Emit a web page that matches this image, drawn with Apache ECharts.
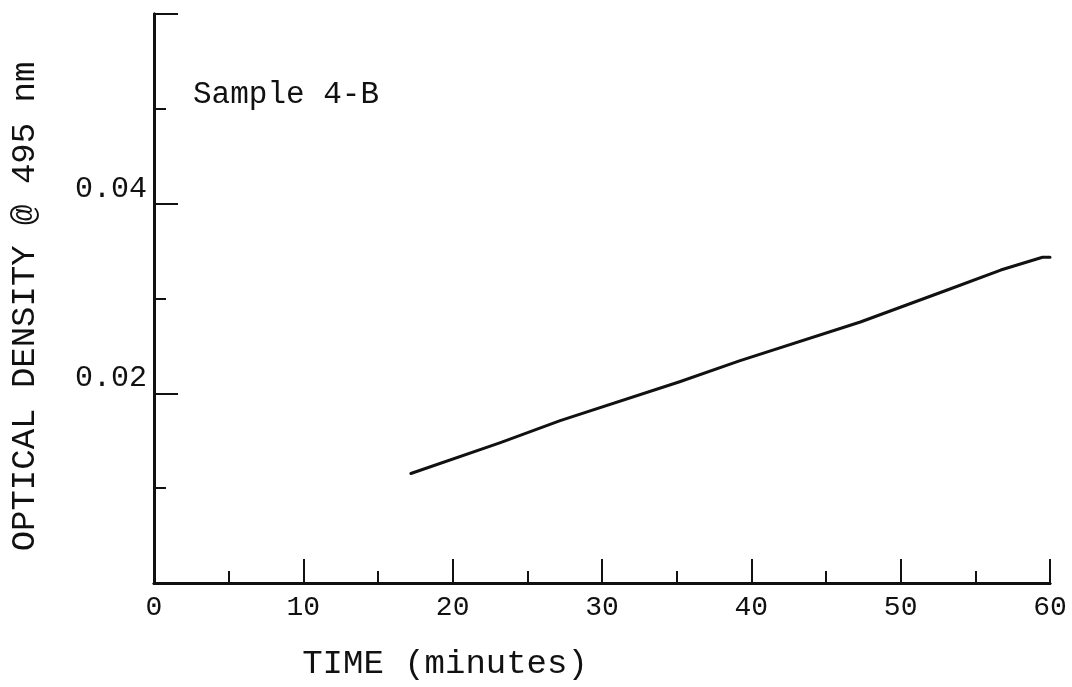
<!DOCTYPE html>
<html>
<head>
<meta charset="utf-8">
<script src="https://cdn.jsdelivr.net/npm/echarts@6/dist/echarts.min.js"></script>
<style>
  html, body { margin: 0; padding: 0; background: #fff; }
  #chart { width: 1072px; height: 687px; }
</style>
</head>
<body>
<div id="chart"></div>
<script>
// Time in minutes and optical density readings for the trace
const timeMinutes = [17.2, 23.2, 27.2, 35.2, 39.2, 47.3, 53.3, 56.7, 59.5, 60.0];
const opticalDensity = [0.01155, 0.01481, 0.01712, 0.02122, 0.02342, 0.02752, 0.03100, 0.03300, 0.03435, 0.03435];

// Labels shown on the axes
const xTickLabels = { 0: '0', 10: '10', 20: '20', 30: '30', 40: '40', 50: '50', 60: '60' };
const yTickLabels = { '0.02': '0.02', '0.04': '0.04' };
const sampleName = 'Sample 4-B';
const xName = 'TIME (minutes)';
const yName = 'OPTICAL DENSITY @ 495 nm';

const mono = '"Liberation Mono", "DejaVu Sans Mono", monospace';
const ink = '#111';

const chart = echarts.init(document.getElementById('chart'), null, { renderer: 'canvas' });

const axisLine = { show: true, lineStyle: { color: ink, width: 3 } };

chart.setOption({
  backgroundColor: '#fff',
  animation: false,
  title: {
    text: sampleName,
    left: 188,
    top: 74,
    textStyle: { fontFamily: mono, fontSize: 31, fontWeight: 'normal', color: ink }
  },
  grid: { left: 154, right: 22, top: 14, bottom: 104, containLabel: false, outerBoundsMode: 'none' },
  xAxis: [{
    type: 'value',
    min: 0, max: 60, interval: 10,
    position: 'bottom',
    name: xName,
    nameLocation: 'middle',
    nameGap: 64,
    // the axis title sits left of the plot's centre
    nameTextStyle: { fontFamily: mono, fontSize: 34, color: ink, padding: [0, 314, 0, 0] },
    axisLine: axisLine,
    axisTick: { show: true, inside: true, length: 24, lineStyle: { color: ink, width: 2 } },
    minorTick: { show: true, splitNumber: 2, length: 12, lineStyle: { color: ink, width: 2 } },
    axisLabel: {
      margin: 11,
      fontFamily: mono, fontSize: 28, color: ink,
      formatter: v => xTickLabels[v] !== undefined ? xTickLabels[v] : ''
    },
    splitLine: { show: false }
  }, {
    type: 'value',
    min: 0, max: 60,
    position: 'top',
    axisLine: { show: true, lineStyle: { color: ink, width: 2.5 } },
    axisTick: { show: false },
    axisLabel: { show: false },
    splitLine: { show: false }
  }],
  yAxis: [{
    type: 'value',
    min: 0, max: 0.06, interval: 0.02,
    position: 'left',
    name: yName,
    nameLocation: 'middle',
    nameRotate: 90,
    nameGap: 112,
    nameTextStyle: { fontFamily: mono, fontSize: 34, color: ink, padding: [0, 16, 0, 0] },
    axisLine: axisLine,
    axisTick: { show: true, inside: true, length: 24, lineStyle: { color: ink, width: 2 } },
    minorTick: { show: true, splitNumber: 2, length: 12, lineStyle: { color: ink, width: 2 } },
    axisLabel: {
      margin: 7,
      fontFamily: mono, fontSize: 30, color: ink,
      verticalAlign: 'bottom',
      formatter: v => yTickLabels[v.toFixed(2)] || ''
    },
    splitLine: { show: false }
  }, {
    type: 'value',
    min: 0, max: 0.06,
    position: 'right',
    axisLine: { show: true, lineStyle: { color: ink, width: 3 } },
    axisTick: { show: false },
    axisLabel: { show: false },
    splitLine: { show: false }
  }],
  series: [{
    type: 'line',
    xAxisIndex: 0,
    yAxisIndex: 0,
    data: timeMinutes.map((t, i) => [t, opticalDensity[i]]),
    showSymbol: false,
    smooth: false,
    lineStyle: { color: ink, width: 3, join: 'round', cap: 'round' }
  }]
});
</script>
</body>
</html>
